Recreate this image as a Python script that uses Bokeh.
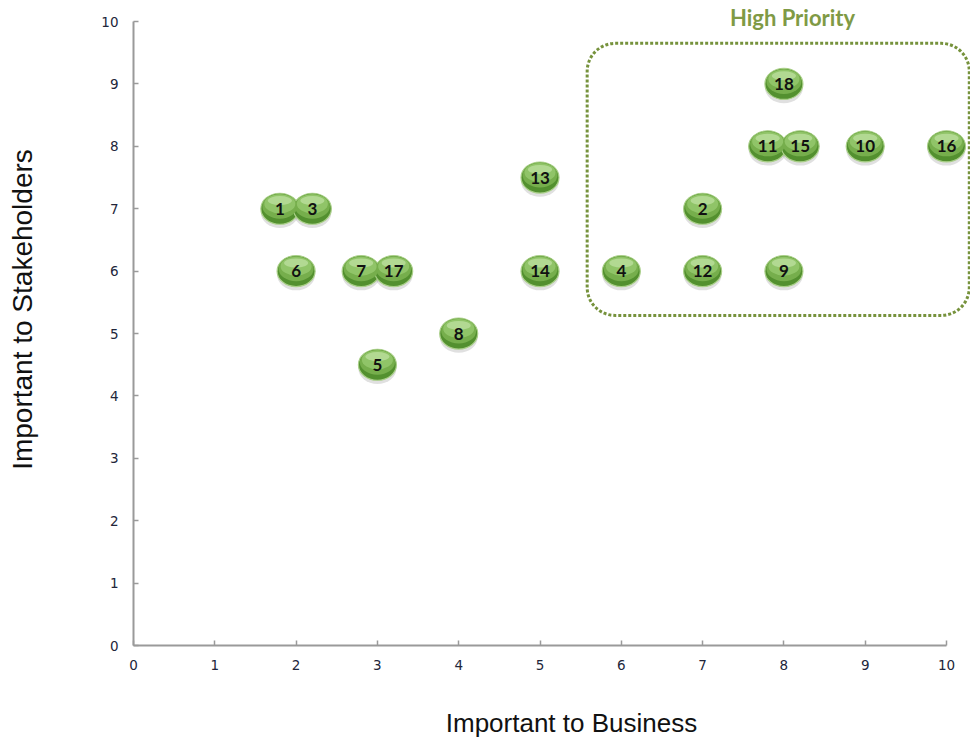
import math
from bokeh.plotting import figure
from bokeh.models import Range1d, BoxAnnotation, ColumnDataSource, FixedTicker
from bokeh.transform import dodge
from bokeh.core.properties import value
from bokeh.embed import file_html
from bokeh.resources import INLINE

ids = ["1", "3", "6", "7", "17", "5", "8", "13", "14", "4", "12", "2", "9", "18", "11", "15", "10", "16"]
business = [1.8, 2.2, 2.0, 2.8, 3.2, 3.0, 4.0, 5.0, 5.0, 6.0, 7.0, 7.0, 8.0, 8.0, 7.8, 8.2, 9.0, 10.0]
stakeholders = [7.0, 7.0, 6.0, 6.0, 6.0, 4.5, 5.0, 7.5, 6.0, 6.0, 6.0, 7.0, 6.0, 9.0, 8.0, 8.0, 8.0, 8.0]
ticks = list(range(0, 11))

src = ColumnDataSource(dict(x=business, y=stakeholders, label=ids))

p = figure(width=970, height=740, output_backend="svg", toolbar_location=None,
           x_range=Range1d(-1.636, 10.295), y_range=Range1d(-1.522, 10.337),
           min_border=0)
p.outline_line_color = None
p.grid.visible = False
p.background_fill_color = "white"

p.xaxis.fixed_location = 0
p.yaxis.fixed_location = 0

for ax in (p.xaxis[0], p.yaxis[0]):
    ax.bounds = (0, 10)
    ax.ticker = FixedTicker(ticks=ticks)
    ax.axis_line_color = "#9a9a9a"
    ax.axis_line_width = 2
    ax.major_tick_line_color = "#9a9a9a"
    ax.major_tick_line_width = 1.5
    ax.major_tick_in = 5
    ax.major_tick_out = 0
    ax.minor_tick_line_color = None
    ax.major_label_text_font = "DejaVu Sans"
    ax.major_label_text_font_size = "13.5px"
    ax.major_label_text_color = "#22263a"

p.xaxis.major_label_standoff = 14
p.yaxis.major_label_standoff = 15

# axis titles
p.text(x=[5.387], y=[-1.234], text=["Important to Business"], text_font=value("Liberation Sans"),
       text_font_size="26px", text_color="#111111", text_align="center", text_baseline="middle")
p.text(x=[-1.365], y=[5.385], text=["Important to Stakeholders"], text_font=value("Liberation Sans"),
       text_font_size="28px", text_color="#111111", text_align="center", text_baseline="middle",
       angle=math.pi / 2)

box = BoxAnnotation(left=5.58, right=10.28, bottom=5.29, top=9.65,
                    fill_alpha=0, line_color="#76923c", line_alpha=1.0, line_width=3,
                    line_dash="3 2", border_radius=28)
p.add_layout(box)

p.text(x=[8.106], y=[10.064], text=["High Priority"], text_font=value("Lato"),
       text_font_style="bold", text_font_size="22px", text_color="#7f9a45",
       text_align="center", text_baseline="middle")

# markers
p.ellipse(x="x", y=dodge("y", -0.06, range=p.y_range), width=38, height=31,
          width_units="screen", height_units="screen", fill_color="black",
          fill_alpha=0.12, line_color=None, source=src)
p.ellipse(x="x", y="y", width=38, height=31, width_units="screen", height_units="screen",
          fill_color="#53902f", line_color="#a9cf88", line_width=1.2, source=src)
p.ellipse(x="x", y=dodge("y", 0.04, range=p.y_range), width=35, height=25,
          width_units="screen", height_units="screen", fill_color="#76ae4c",
          line_color=None, source=src)
p.ellipse(x="x", y=dodge("y", 0.08, range=p.y_range), width=31, height=19,
          width_units="screen", height_units="screen", fill_color="#94c66b",
          line_color=None, fill_alpha=0.9, source=src)
p.ellipse(x="x", y=dodge("y", 0.13, range=p.y_range), width=24, height=9,
          width_units="screen", height_units="screen", fill_color="#badf9c",
          line_color=None, fill_alpha=0.8, source=src)

p.text(x="x", y="y", text="label", text_font=value("Lato"), text_font_style="bold",
       text_font_size="17px", text_color="#111111", text_align="center",
       text_baseline="middle", source=src)

open("out.html", "w").write(file_html(p, INLINE))
